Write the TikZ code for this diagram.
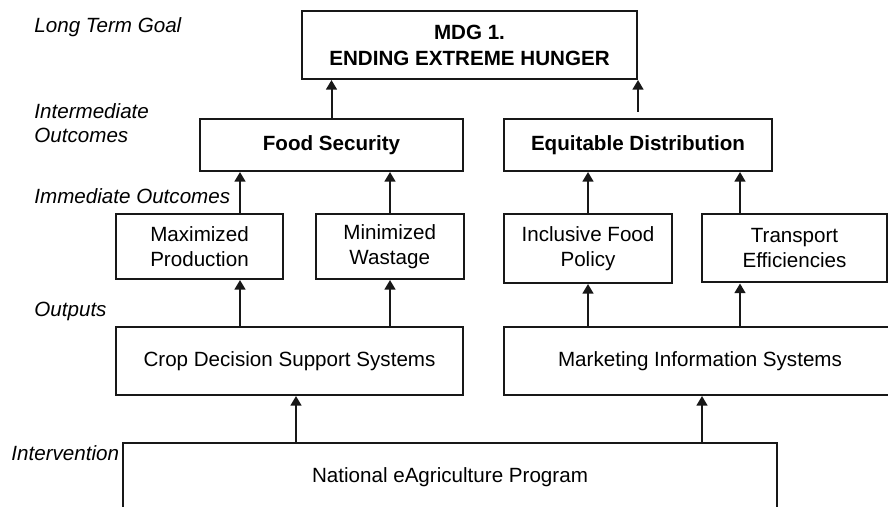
\documentclass[tikz,border=0pt]{standalone}
\usepackage{fontspec}
\setmainfont{Liberation Sans}
\definecolor{inkline}{RGB}{24, 24, 24}
\usetikzlibrary{arrows.meta, positioning}
\tikzset{
	box/.style={rectangle, draw=inkline, line width=1pt, align=center, inner sep=0pt, font=\fontsize{10.3}{12.5}\selectfont},
	boldbox/.style={box, font=\fontsize{10.3}{13}\selectfont\bfseries},
	level/.style={anchor=base west, inner sep=0pt, align=left, font=\fontsize{10.3}{12}\selectfont\itshape},
	arrow/.style={-{Triangle[length=4.8pt, width=5.4pt]}, line width=1pt, draw=inkline},
}

\begin{document}
\begin{tikzpicture}[x=0.5pt, y=-0.5pt]
		\path[use as bounding box, clip] (0,0) rectangle (888,507);
		% level labels down the left side
		\node[level] (lgoal) at (34,33) {Long Term Goal};
		\node[level] (linter) at (34,143) {Intermediate\\Outcomes};
		\node[level] (limmed) at (34,204) {Immediate Outcomes};
		\node[level] (lout) at (34,317) {Outputs};
		\node[level] (linterv) at (11,460) {Intervention};
		% boxes
		\node[boldbox, minimum width=167.5pt, minimum height=34pt] (goal) at (469.5,45) {MDG 1.\\ENDING EXTREME HUNGER};
		\node[boldbox, minimum width=131.5pt, minimum height=26pt] (food) at (331.5,145) {Food Security};
		\node[boldbox, minimum width=134pt, minimum height=26pt] (equit) at (638,145) {Equitable Distribution};
		\node[box, minimum width=83.5pt, minimum height=32.5pt] (maxprod) at (199.5,246.5) {Maximized\\Production};
		\node[box, minimum width=73.75pt, minimum height=32.5pt] (minwaste) at (389.75,246.5) {Minimized\\Wastage};
		\node[box, minimum width=84pt, minimum height=34.5pt] (inclpol) at (588,248.5) {Inclusive Food\\Policy};
		\node[box, minimum width=92.5pt, minimum height=34pt] (transp) at (794.5,248.5) {Transport\\Efficiencies};
		\node[box, minimum width=173.5pt, minimum height=34pt] (cropdss) at (289.5,361) {Crop Decision Support Systems};
		\node[box, minimum width=196pt, minimum height=34pt] (mis) at (700,361) {Marketing Information Systems};
		\node[box, minimum width=327pt, minimum height=34pt] (nep) at (450,477) {National eAgriculture Program};
		% arrow columns
		\coordinate (c1) at (240,0);
		\coordinate (c2) at (390,0);
		\coordinate (c3) at (588,0);
		\coordinate (c4) at (740,0);
		\coordinate (c5) at (296,0);
		\coordinate (c6) at (702,0);
		\draw[arrow] (food.north) -- (food.north |- goal.south);
		\draw[arrow] ([yshift=3pt]equit.north) -- (equit.north |- goal.south);
		\draw[arrow] (maxprod.north -| c1) -- (food.south -| c1);
		\draw[arrow] (minwaste.north -| c2) -- (food.south -| c2);
		\draw[arrow] (inclpol.north -| c3) -- (equit.south -| c3);
		\draw[arrow] (transp.north -| c4) -- (equit.south -| c4);
		\draw[arrow] (cropdss.north -| c1) -- (maxprod.south -| c1);
		\draw[arrow] (cropdss.north -| c2) -- (minwaste.south -| c2);
		\draw[arrow] (mis.north -| c3) -- (inclpol.south -| c3);
		\draw[arrow] (mis.north -| c4) -- (transp.south -| c4);
		\draw[arrow] (nep.north -| c5) -- (cropdss.south -| c5);
		\draw[arrow] (nep.north -| c6) -- (mis.south -| c6);
	\end{tikzpicture}
\end{document}
